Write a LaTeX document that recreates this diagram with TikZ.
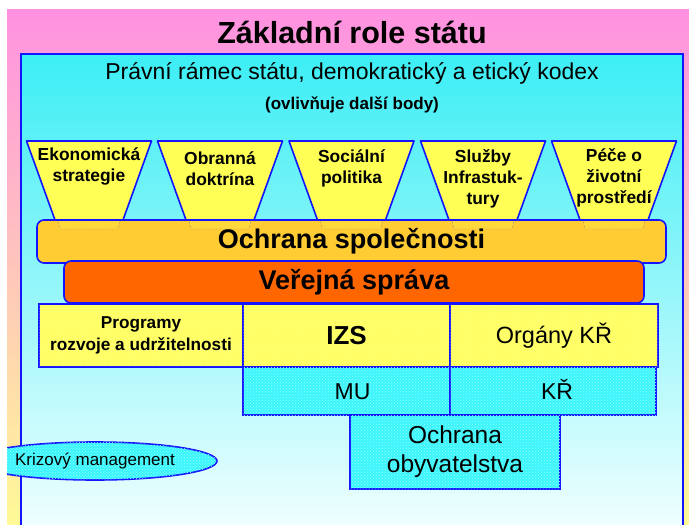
\documentclass[tikz,border=0pt]{standalone}
\usepackage{fontspec}
\setmainfont{Liberation Sans}
\usetikzlibrary{shapes.geometric, patterns, positioning, calc}

\definecolor{slidepink}{RGB}{255,145,225}
\definecolor{slideyellow}{RGB}{255,250,150}
\definecolor{panelcyan}{RGB}{60,238,245}
\definecolor{panelmid}{RGB}{185,235,252}
\definecolor{panelwhite}{RGB}{245,255,255}
\definecolor{edgeblue}{RGB}{20,20,255}
\definecolor{funnelyellow}{RGB}{255,255,85}
\definecolor{boxyellow}{RGB}{255,255,100}
\definecolor{bandorange}{RGB}{255,204,51}
\definecolor{adminorange}{RGB}{255,102,0}
\definecolor{boxcyan}{RGB}{60,245,250}

\begin{document}
\begin{tikzpicture}[x=1pt, y=-1pt]
    % --- Style Definitions ---
    \tikzset{
        % Inner panel frame
        panel style/.style={draw=edgeblue, line width=2.2pt},
        % Funnels on top
        funnel style/.style={
            draw=edgeblue,
            line width=1.6pt,
            line join=round,
            fill=funnelyellow
        },
        funnel text/.style={font=\fontsize{17.4}{21}\selectfont\bfseries, align=center, anchor=north},
        stub style/.style={draw=blue!30!gray, densely dotted, fill=funnelyellow!25!bandorange},
        % Horizontal bands
        band style/.style={
            draw=edgeblue,
            line width=1.6pt,
            rounded corners=7pt,
            font=\fontsize{27}{30}\selectfont\bfseries
        },
        % Grid boxes
        grid box/.style={
            draw=edgeblue,
            line width=1.8pt,
            inner sep=0pt,
            align=center
        },
        yellow box/.style={grid box, fill=boxyellow,
            postaction={pattern=dots, pattern color=white!70!yellow}},
        cyan box/.style={grid box, fill=boxcyan,
            postaction={pattern=crosshatch dots, pattern color=white!55!cyan}},
        % Text styling
        title text/.style={font=\fontsize{30.5}{34}\selectfont\bfseries},
        frame text/.style={font=\fontsize{23}{26}\selectfont},
        note text/.style={font=\fontsize{17}{20}\selectfont\bfseries}
    }

    \useasboundingbox (0,0) rectangle (689,525);
    \clip (0,0) rectangle (689,525);

    % ==========================================
    % BACKGROUND
    % ==========================================
    \fill[white] (0,0) rectangle (689,525);
    \shade[top color=slidepink, bottom color=slideyellow] (7,9) rectangle (689,525);
    \shade[top color=panelcyan, middle color=panelmid, bottom color=panelwhite]
        (21,54) rectangle (683,540);
    \draw[panel style] (21,54) rectangle (683,540);

    % 1. Titles
    \node[title text] (title) at (352,32) {Základní role státu};
    \node[frame text] (frame) at (352,73) {Právní rámec státu, demokratický a etický kodex};
    \node[note text] (note) at (352,105) {(ovlivňuje další body)};

    % 2. Funnels
    \coordinate (eco) at (89,180.5);
    \coordinate (def) at (220,180.5);
    \coordinate (soc) at (351.5,180.5);
    \coordinate (inf) at (483,180.5);
    \coordinate (env) at (614,180.5);
    \foreach \f in {eco,def,soc,inf,env}
        \draw[funnel style] ($(\f)+(-62.5,-39.5)$) -- ($(\f)+(62.5,-39.5)$)
            -- ($(\f)+(34,39.5)$) -- ($(\f)+(-34,39.5)$) -- cycle;

    \node[funnel text] (eco_txt) at ([yshift=36pt]eco) {Ekonomická\\strategie};
    \node[funnel text] (def_txt) at ([yshift=32pt]def) {Obranná\\doktrína};
    \node[funnel text] (soc_txt) at ([yshift=34pt]soc) {Sociální\\politika};
    \node[funnel text] (inf_txt) at ([yshift=35pt]inf) {Služby\\Infrastuk-\\tury};
    \node[funnel text] (env_txt) at ([yshift=36pt]env) {Péče o\\životní\\prostředí};

    % 3. Bands
    \node[band style, fill=bandorange, minimum width=629pt, minimum height=43pt]
        (society) at (351.5,241.5) {};
    \foreach \f in {eco,def,soc,inf,env}
        \draw[stub style] ($(\f)+(-31,40.5)$) -- ($(\f)+(-29,48.5)$)
            -- ($(\f)+(29,48.5)$) -- ($(\f)+(31,40.5)$);
    \node[font=\fontsize{27}{30}\selectfont\bfseries] (society_txt) at (society.center) {Ochrana společnosti};

    \node[band style, fill=adminorange, minimum width=580pt, minimum height=42pt]
        (admin) at (354,282) {Veřejná správa};

    % 4. Grid of boxes
    \node[yellow box, minimum width=204pt, minimum height=63pt,
          font=\fontsize{17.2}{22}\selectfont\bfseries] (prog) at (141,335.5)
        {Programy\\rozvoje a udržitelnosti};
    \node[yellow box, minimum width=207pt, minimum height=63pt,
          font=\fontsize{26}{28}\selectfont\bfseries] (izs) at (346.5,335.5) {IZS};
    \node[yellow box, minimum width=208pt, minimum height=63pt,
          font=\fontsize{23.5}{26}\selectfont] (organs) at (554,335.5) {Orgány KŘ};

    \node[cyan box, minimum width=207pt, minimum height=48pt, text height=17pt, text depth=0pt,
          font=\fontsize{23}{26}\selectfont] (mu) at (346.5,391) {\hspace*{12pt}MU};
    \node[cyan box, minimum width=206pt, minimum height=48pt, text height=17pt, text depth=0pt,
          font=\fontsize{23}{26}\selectfont] (kr) at (553,391) {\hspace*{8pt}KŘ};
    \node[cyan box, minimum width=210pt, minimum height=74pt,
          font=\fontsize{24.5}{29}\selectfont] (people) at (455,452) {Ochrana\\obyvatelstva};

    % 5. Crisis management label
    \begin{scope}
        \clip (7,9) rectangle (689,525);
        \node[ellipse, draw=edgeblue, line width=1.6pt, fill=boxcyan,
              minimum width=244pt, minimum height=38pt, inner sep=0pt,
              postaction={pattern=crosshatch dots, pattern color=white!55!cyan}]
            (crisis) at (95,461) {};
    \end{scope}
    \node[font=\fontsize{17}{20}\selectfont] (crisis_txt) at (95,461) {Krizový management};

\end{tikzpicture}
\end{document}
